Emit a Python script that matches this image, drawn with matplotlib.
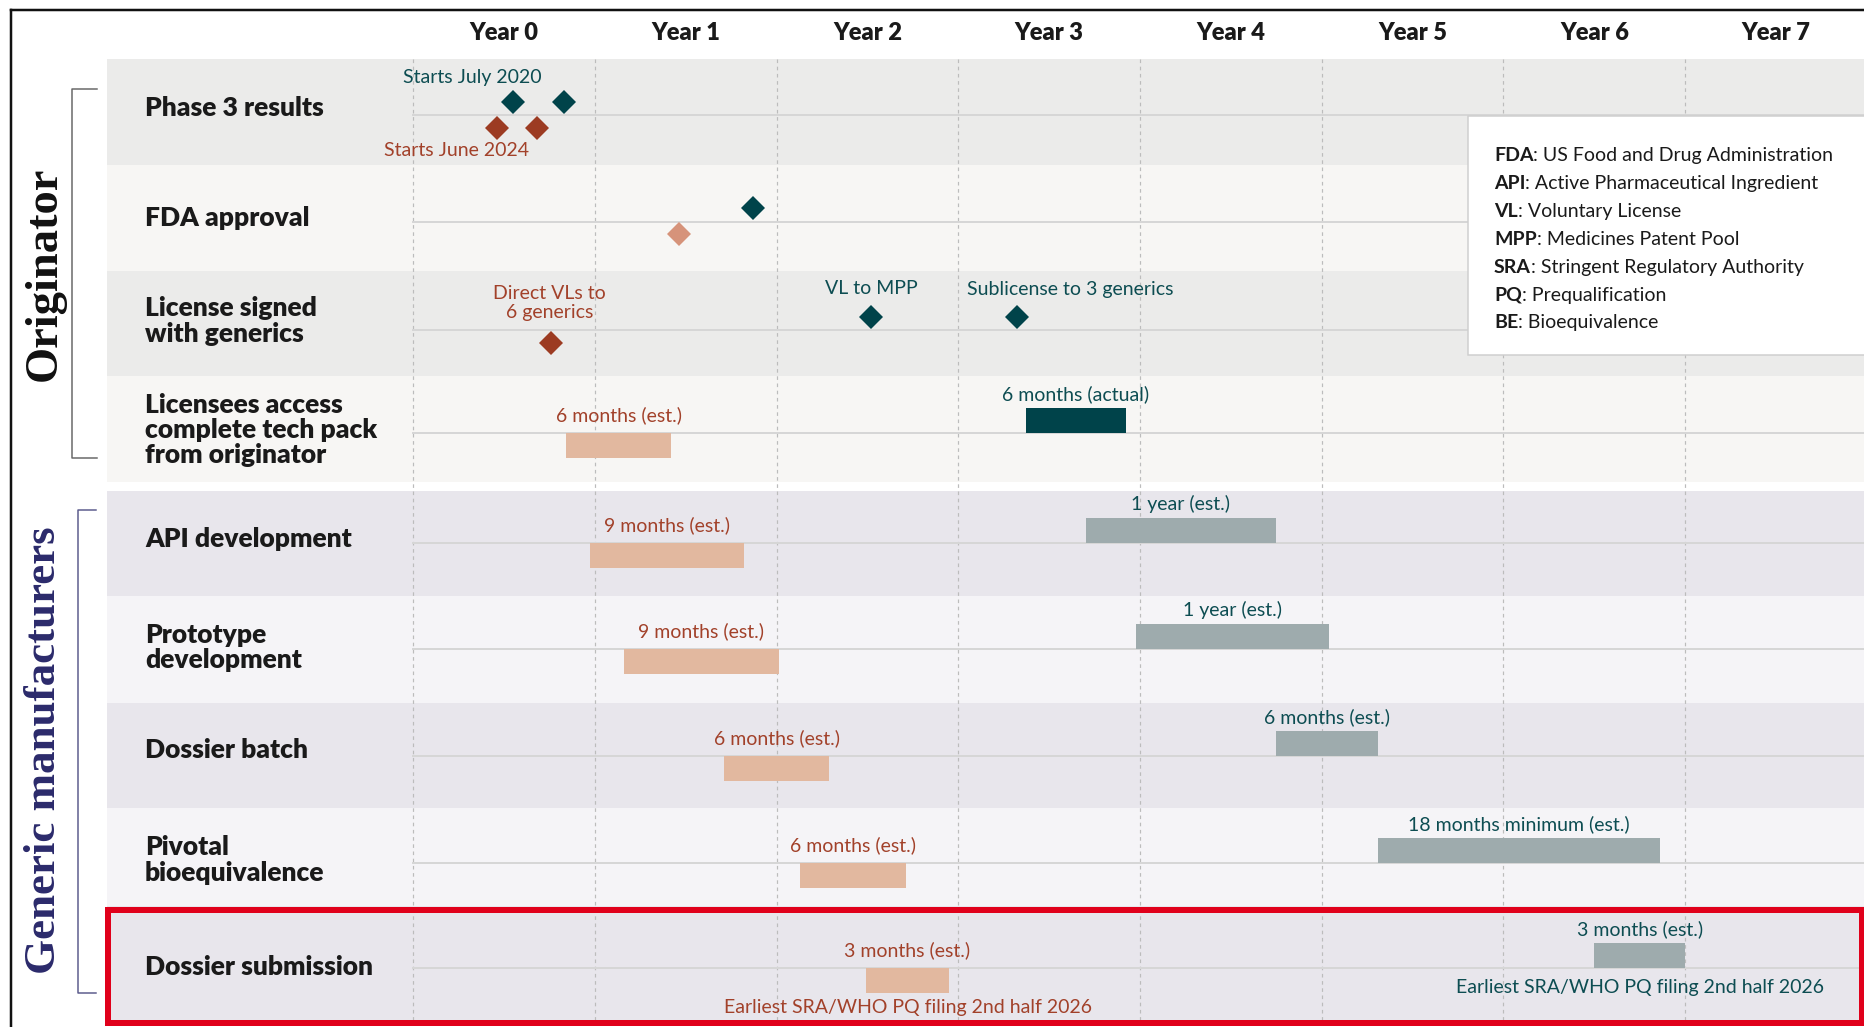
import matplotlib
matplotlib.use("Agg")
import matplotlib.pyplot as plt
from matplotlib.patches import Rectangle

plt.rcParams['font.family'] = ['Lato', 'DejaVu Sans']

# ---- data (years after start) ----
rows = ["Phase 3 results", "FDA approval", "License signed\nwith generics",
        "Licensees access\ncomplete tech pack\nfrom originator",
        "API development", "Prototype\ndevelopment", "Dossier batch",
        "Pivotal\nbioequivalence", "Dossier submission"]
years = ["Year 0", "Year 1", "Year 2", "Year 3", "Year 4", "Year 5", "Year 6", "Year 7"]

# milestones: (row index, year)
teal_ms_row = [0, 0, 1, 2, 2]
teal_ms_t = [0.55, 0.83, 1.87, 2.52, 3.32]
rust_ms_row = [0, 0, 1, 2]
rust_ms_t = [0.46, 0.68, 1.46, 0.76]
rust_ms_light = [False, False, True, False]

# bars (rows 3..8)
bar_rows = [3, 4, 5, 6, 7, 8]
orange_start = [0.84, 0.97, 1.16, 1.71, 2.13, 2.49]
orange_end = [1.42, 1.82, 2.01, 2.29, 2.71, 2.95]
orange_lbl = ["6 months (est.)", "9 months (est.)", "9 months (est.)",
              "6 months (est.)", "6 months (est.)", "3 months (est.)"]
teal_start = [3.37, 3.70, 3.98, 4.75, 5.31, 6.50]
teal_end = [3.92, 4.75, 5.04, 5.31, 6.86, 7.00]
teal_lbl = ["6 months (actual)", "1 year (est.)", "1 year (est.)",
            "6 months (est.)", "18 months minimum (est.)", "3 months (est.)"]
note = "Earliest SRA/WHO PQ filing 2nd half 2026"

abbr = ["FDA", "API", "VL", "MPP", "SRA", "PQ", "BE"]
abbr_txt = ["US Food and Drug Administration", "Active Pharmaceutical Ingredient",
            "Voluntary License", "Medicines Patent Pool",
            "Stringent Regulatory Authority", "Prequalification", "Bioequivalence"]

# ---- colours ----
TEAL = "#00434a"
TEAL_TXT = "#0d4d52"
RUST = "#9c3b22"
RUST_TXT = "#a2412a"
PEACH = "#e2b89f"
GREYTEAL = "#9eabad"

# ---- layout (pixels) ----
W, H = 1865, 1027
X0, YR = 413.3, 181.7
row_top = [59, 165, 271, 376, 491, 596, 703, 808, 906]
row_bot = [165, 271, 376, 482, 596, 703, 808, 906, 1023]
row_mid = [115, 221.7, 330, 433, 543, 649, 756, 863, 968]
label_y = [108, 218, 321, 430, 539, 647.5, 750, 860, 967]
row_bg = ["#ebebea", "#f7f6f4", "#ebebea", "#f7f6f4",
          "#e8e6ec", "#f5f4f7", "#e8e6ec", "#f5f4f7", "#e8e6ec"]


def px(x):
    return (x - X0) / YR


P = 0.72  # points per pixel

fig = plt.figure(figsize=(W / 100, H / 100), dpi=100)
ax = fig.add_axes([0, 0, 1, 1])
ax.set_xlim(px(0), px(W))
ax.set_ylim(H, 0)
ax.axis('off')

# frame
ax.plot([px(11), px(W + 5)], [9.5, 9.5], color="#111", lw=2.5 * P, zorder=6)
ax.plot([px(11), px(11)], [9.5, H + 5], color="#111", lw=2.5 * P, zorder=6)

# row backgrounds, midlines, labels
for i, r in enumerate(rows):
    ax.add_patch(Rectangle((px(107), row_top[i]), px(W + 10) - px(107),
                           row_bot[i] - row_top[i], color=row_bg[i], lw=0, zorder=0))
    ax.plot([0, px(W + 10)], [row_mid[i], row_mid[i]], color="#d6d6d6",
            lw=2 * P, zorder=1.5)
    ax.text(px(145), label_y[i], r, fontsize=19, fontweight='heavy', color="#1a1a1a",
            va='center', ha='left', linespacing=1.06, zorder=4)

# year gridlines + headers
for k, y in enumerate(years):
    ax.plot([k, k], [59, 1020], color="#bcbcbc", lw=1.2 * P,
            ls=(0, (3, 3)), zorder=1)
    ax.text(k + 0.5, 33, y, fontsize=17, fontweight='heavy', color="#1a1a1a",
            ha='center', va='center')

# bars
for j, r in enumerate(bar_rows):
    m = row_mid[r]
    ax.barh(m, orange_end[j] - orange_start[j], left=orange_start[j], height=25,
            align='edge', color=PEACH, lw=0, zorder=2)
    ax.text((orange_start[j] + orange_end[j]) / 2, m - 18, orange_lbl[j],
            fontsize=14, color=RUST_TXT, ha='center', va='center', zorder=4)
    ax.barh(m - 25, teal_end[j] - teal_start[j], left=teal_start[j], height=25,
            align='edge', color=TEAL if j == 0 else GREYTEAL, lw=0, zorder=2)
    ax.text((teal_start[j] + teal_end[j]) / 2, m - 39, teal_lbl[j],
            fontsize=14, color=TEAL_TXT, ha='center', va='center', zorder=4)

# dossier submission notes
m = row_mid[8]
ax.text((orange_start[-1] + orange_end[-1]) / 2, m + 39, note, fontsize=14,
        color=RUST_TXT, ha='center', va='center', zorder=4)
ax.text((teal_start[-1] + teal_end[-1]) / 2, m + 19, note, fontsize=14,
        color=TEAL_TXT, ha='center', va='center', zorder=4)

# milestones
for r, t in zip(teal_ms_row, teal_ms_t):
    ax.plot(t, row_mid[r] - 13.5, marker='D', ms=12.5, color=TEAL, mew=0, zorder=3)
for r, t, light in zip(rust_ms_row, rust_ms_t, rust_ms_light):
    ax.plot(t, row_mid[r] + 12.5, marker='D', ms=12.5,
            color="#d6937a" if light else RUST, mew=0, zorder=3)

ax.text(px(472), row_mid[0] - 38, "Starts July 2020", fontsize=14, color=TEAL_TXT,
        ha='center', va='center', zorder=4)
ax.text(px(456.5), row_mid[0] + 36, "Starts June 2024", fontsize=14, color=RUST_TXT,
        ha='center', va='center', zorder=4)
ax.text(rust_ms_t[3] - 0.01, row_mid[2] - 27, "Direct VLs to\n6 generics", fontsize=14,
        color=RUST_TXT, ha='center', va='center', linespacing=1.15, zorder=4)
ax.text(teal_ms_t[3], row_mid[2] - 41, "VL to MPP", fontsize=14, color=TEAL_TXT,
        ha='center', va='center', zorder=4)
ax.text(px(1070), row_mid[2] - 41, "Sublicense to 3 generics", fontsize=14,
        color=TEAL_TXT, ha='center', va='center', zorder=4)

# abbreviation box
ax.add_patch(Rectangle((px(1468), 116), px(W + 20) - px(1468), 239, facecolor="white",
                       edgecolor="#cfcfcf", lw=1.5 * P, zorder=5))
for i, (a, d) in enumerate(zip(abbr, abbr_txt)):
    yb = 161 + i * 27.9
    tb = ax.text(px(1494), yb, a, fontsize=14, fontweight='bold', color="#1a1a1a",
                 ha='left', va='baseline', zorder=6)
    ax.annotate(": " + d, xy=(1, yb), xycoords=(tb, 'data'), fontsize=14,
                color="#1a1a1a", ha='left', va='baseline', zorder=6)

# group brackets and titles
ax.plot([px(97), px(72), px(72), px(97)], [89, 89, 458, 458], color="#666", lw=1.5 * P)
ax.plot([px(96), px(78), px(78), px(96)], [510, 510, 993, 993], color="#5a5a8c", lw=1.5 * P)
ax.text(px(45), 274, "Originator", rotation=90, fontsize=33.5, fontweight='bold',
        family='Liberation Serif', color="#111", ha='center', va='center')
ax.text(px(44), 750, "Generic manufacturers", rotation=90, fontsize=32.4, fontweight='bold',
        family='Liberation Serif', color="#2b2a6b", ha='center', va='center')

# highlight box
ax.add_patch(Rectangle((px(108), 910), px(1862) - px(108), 113, fill=False,
                       edgecolor="#e0001b", lw=6 * P, zorder=7))

fig.savefig("out.png", dpi=100)
